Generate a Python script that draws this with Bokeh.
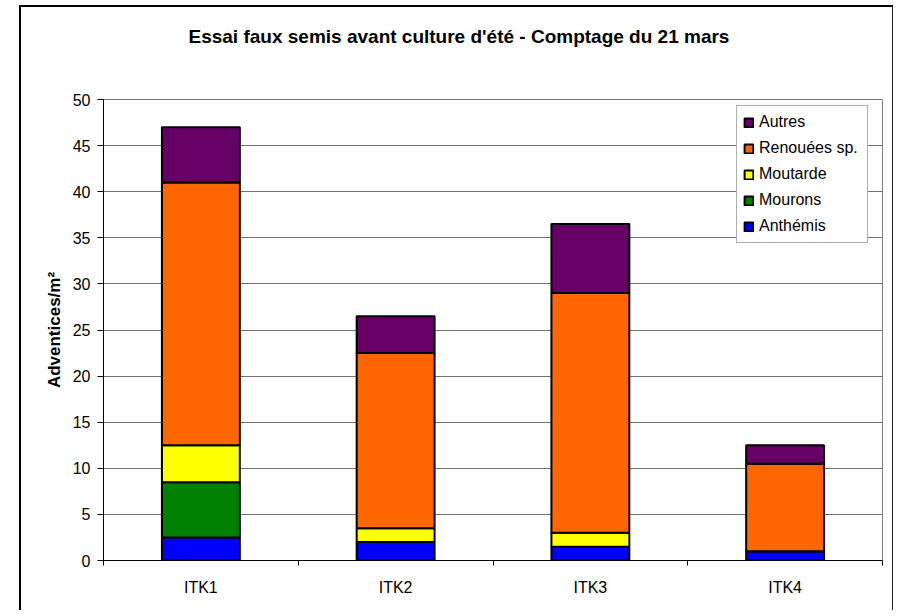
from bokeh.plotting import figure
from bokeh.models import (ColumnDataSource, Range1d, FixedTicker, Legend, LegendItem, Title)
from bokeh.embed import file_html
from bokeh.resources import INLINE

categories = ["ITK1", "ITK2", "ITK3", "ITK4"]
anthemis = [2.5, 2, 1.5, 1]
mourons = [6, 0, 0, 0]
moutarde = [4, 1.5, 1.5, 0]
renouees = [28.5, 19, 26, 9.5]
autres = [6, 4, 7.5, 2]

series_names = ["Anthémis", "Mourons", "Moutarde", "Renouées sp.", "Autres"]
series_keys = ["anthemis", "mourons", "moutarde", "renouees", "autres"]
colors = ["#0000FF", "#008000", "#FFFF00", "#FF6600", "#660066"]
y_ticks = [0, 5, 10, 15, 20, 25, 30, 35, 40, 45, 50]

xpos = [i + 1 for i in range(len(categories))]
source = ColumnDataSource(dict(x=xpos, anthemis=anthemis, mourons=mourons,
                               moutarde=moutarde, renouees=renouees, autres=autres))

FONT = "Liberation Sans"

p = figure(width=874, height=605, output_backend="svg", toolbar_location=None,
           x_range=Range1d(0.5, len(categories) + 0.5), y_range=Range1d(0, 50),
           min_border_left=82, min_border_right=13, min_border_top=92, min_border_bottom=52)
p.styles = {"margin-left": "19px", "margin-top": "5px",
            "border-left": "2px solid black", "border-top": "2px solid black",
            "border-right": "1px solid #202020"}
p.background_fill_color = "white"
p.border_fill_color = "white"
p.outline_line_color = "#808080"
p.outline_line_width = 1

p.title = Title(text="Essai faux semis avant culture d'été - Comptage du 21 mars",
                align="left", vertical_align="top", text_font=FONT, text_font_size="19px",
                text_font_style="bold", text_color="black", standoff=0, offset=85,
                padding=dict(left=0, right=0, top=0, bottom=51))

renderers = p.vbar_stack(series_keys, x="x", width=0.4, source=source, color=colors,
                         line_color="black", line_width=2)

items = [LegendItem(label=n, renderers=[r]) for n, r in zip(series_names, renderers)][::-1]
legend = Legend(items=items, location=(633, 317), label_text_font=FONT,
                label_text_font_size="16px", label_text_color="black",
                glyph_width=11, glyph_height=11,
                label_height=20, label_width=102, spacing=6, padding=6, margin=0,
                label_standoff=5,
                border_line_color="#606060", border_line_width=1,
                background_fill_color="white", background_fill_alpha=1.0)
p.add_layout(legend)

# y axis
p.yaxis.ticker = FixedTicker(ticks=y_ticks)
p.yaxis.major_tick_out = 6
p.yaxis.major_tick_in = 0
p.yaxis.major_tick_line_color = "black"
p.yaxis.minor_tick_line_color = None
p.yaxis.axis_line_color = "black"
p.yaxis.major_label_text_font = FONT
p.yaxis.major_label_text_font_size = "16px"
p.yaxis.major_label_text_color = "black"
p.yaxis.major_label_standoff = 7
p.yaxis.axis_label = "Adventices/m²"
p.yaxis.axis_label_text_font = FONT
p.yaxis.axis_label_text_font_size = "17px"
p.yaxis.axis_label_text_font_style = "bold"
p.yaxis.axis_label_text_color = "black"
p.yaxis.axis_label_standoff = 6

# x axis: labels at centres, ticks at boundaries (minor)
p.xaxis.ticker = FixedTicker(ticks=xpos, minor_ticks=[x - 0.5 for x in xpos] + [xpos[-1] + 0.5])
p.xaxis.major_label_overrides = {x: c for x, c in zip(xpos, categories)}
p.xaxis.major_tick_out = 0
p.xaxis.major_tick_in = 0
p.xaxis.minor_tick_out = 5
p.xaxis.minor_tick_in = 0
p.xaxis.minor_tick_line_color = "black"
p.xaxis.axis_line_color = "black"
p.xaxis.major_label_text_font = FONT
p.xaxis.major_label_text_font_size = "16px"
p.xaxis.major_label_text_color = "black"
p.xaxis.major_label_standoff = 13

p.xgrid.grid_line_color = None
p.ygrid.ticker = FixedTicker(ticks=y_ticks)
p.ygrid.grid_line_color = "#707070"
p.ygrid.grid_line_width = 1

open("out.html", "w").write(file_html(p, INLINE))
